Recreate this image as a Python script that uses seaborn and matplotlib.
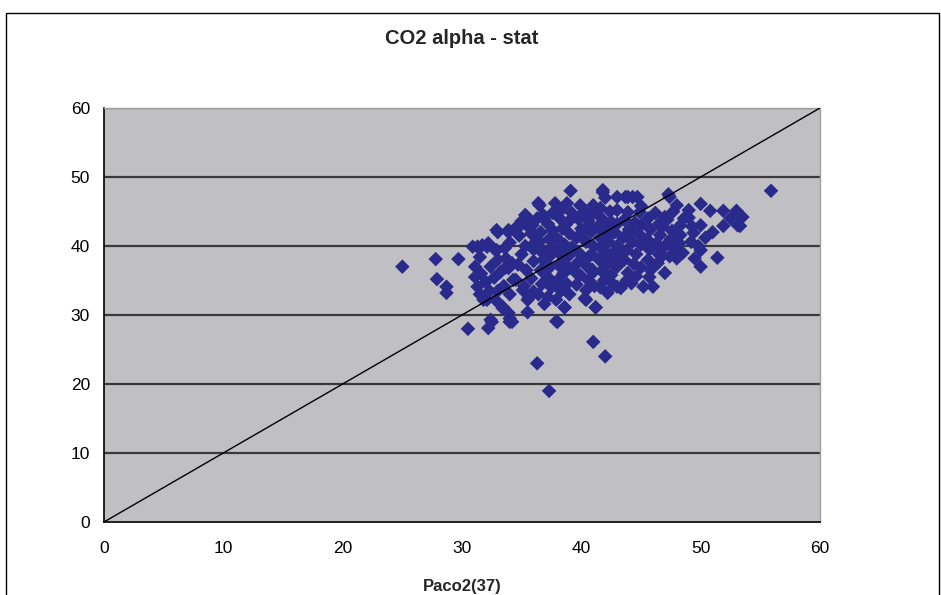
import seaborn as sns
import pandas as pd
import matplotlib.pyplot as plt
from matplotlib.patches import Rectangle

# points, grouped roughly by Paco2 column
paco2 = [
    25.0, 27.8, 29.7, 27.9, 28.7, 28.7, 30.5, 32.2, 32.4, 32.5,
    36.3, 37.3, 41.0, 42.0, 55.9,
    31.8, 32.1, 32.8, 33.4, 33.9, 34.2, 34.0,
    33.4, 34.0, 35.5, 35.5, 35.1, 34.5, 33.6,
    37.9, 38.0, 38.6, 40.3, 41.2, 40.4,
    31.3, 31.5, 31.1, 31.1, 31.3, 30.9, 31.7, 32.2, 32.1, 32.4, 31.6, 32.0, 32.3, 31.5,
    32.9, 33.0, 33.9, 33.9, 32.8, 33.6, 32.9, 33.2, 33.9, 34.3, 33.0, 33.7, 32.7, 33.5, 34.0, 33.0, 34.0, 34.2,
    34.6, 34.9, 35.5, 35.3, 34.8, 35.3, 35.0, 34.7, 35.4, 35.8, 35.2, 36.0, 35.8, 35.9, 36.0, 36.0, 35.6,
    36.4, 36.5, 36.8, 36.3, 37.2, 36.6, 37.3, 36.5, 37.0, 36.8, 37.4, 36.6, 37.2, 36.7, 37.5, 36.4, 37.2, 37.6, 37.5, 36.9,
    37.8, 38.8, 38.3, 39.1, 38.2, 38.9, 38.4, 39.0, 38.0, 38.6, 38.1, 38.9, 38.3, 39.0, 38.5, 38.0, 38.8, 38.3, 39.0, 38.6, 37.9, 39.2, 39.2,
    39.9, 41.0, 40.3, 39.7, 40.6, 40.0, 40.8, 39.6, 40.4, 41.0, 39.8, 40.6, 39.7, 40.5, 41.0, 39.9, 40.6, 39.6, 40.4, 41.1, 40.3, 41.2, 41.0, 40.9,
    41.8, 41.8, 42.0, 43.0, 41.6, 42.4, 43.0, 41.7, 42.5, 41.9, 42.8, 41.6, 42.3, 43.0, 41.8, 42.6, 41.5, 42.2, 43.0, 41.7, 42.5, 41.9, 42.7, 43.0, 41.6, 42.2, 43.0, 42.9,
    43.7, 44.3, 43.9, 44.7, 43.9, 44.9, 43.6, 44.5, 44.0, 44.8, 43.5, 44.3, 45.0, 43.8, 44.6, 43.6, 44.4, 45.0, 43.9, 44.6, 43.3, 43.8, 45.2, 44.2, 45.0, 45.0,
    46.2, 45.6, 46.5, 45.8, 46.6, 45.5, 46.3, 47.0, 45.7, 46.5, 45.6, 46.4, 47.0, 45.8, 46.0, 45.7, 46.8, 47.0, 46.8,
    47.4, 47.3, 47.2, 48.0, 47.6, 48.3, 47.5, 48.2, 47.8, 48.5, 47.4, 48.0, 48.3, 47.7, 48.6,
    49.0, 49.0, 50.0, 49.4, 50.0, 49.2, 49.8, 50.0, 49.5, 50.0, 50.4, 49.3,
    50.8, 51.9, 53.0, 53.5, 53.3, 51.9, 51.0, 53.1, 51.4, 52.5,
    # extra points in the dense core
    35.0, 35.6, 36.2, 36.9, 37.6, 38.2, 38.7, 39.4, 40.1, 40.7, 41.4, 42.1,
    36.0, 36.7, 37.4, 38.1, 38.8, 39.5, 40.2, 40.9, 41.6, 42.3, 43.1, 43.8,
]
co2_alpha_stat = [
    37.0, 38.1, 38.1, 35.2, 34.1, 33.2, 28.0, 28.1, 29.3, 29.0,
    23.0, 19.0, 26.1, 24.0, 48.0,
    32.2, 32.2, 32.2, 31.2, 30.3, 29.0, 29.5,
    31.0, 29.0, 30.4, 32.2, 33.6, 35.1, 36.8,
    29.1, 29.0, 31.1, 32.4, 31.1, 32.2,
    39.9, 38.4, 37.0, 35.5, 34.1, 39.9, 40.1, 40.4, 39.9, 37.0, 36.0, 34.8, 33.5, 33.0,
    42.3, 42.0, 42.3, 42.0, 39.4, 39.7, 39.4, 36.2, 36.8, 35.1, 38.0, 38.2, 35.4, 34.2, 33.0, 33.5, 40.5, 37.5,
    42.8, 43.0, 44.1, 44.5, 41.5, 40.0, 38.8, 37.3, 36.5, 35.3, 34.2, 33.4, 41.8, 43.0, 39.5, 37.8, 32.5,
    46.2, 45.9, 44.5, 44.0, 43.2, 42.0, 41.0, 40.6, 39.2, 38.0, 37.0, 36.5, 35.5, 34.5, 34.0, 33.0, 32.6, 44.8, 39.8, 31.6,
    46.2, 46.2, 45.2, 48.0, 44.0, 43.5, 42.5, 41.8, 41.0, 40.2, 39.0, 38.5, 37.5, 36.8, 36.0, 35.0, 34.5, 33.5, 33.0, 31.1, 32.2, 44.8, 39.8,
    45.9, 45.9, 45.0, 44.0, 43.6, 42.5, 42.0, 41.2, 40.6, 40.0, 39.0, 38.4, 37.6, 37.0, 36.2, 35.8, 35.0, 34.4, 33.6, 34.2, 32.4, 31.1, 44.8, 38.8,
    47.8, 48.1, 47.0, 47.1, 45.5, 45.0, 45.2, 44.0, 43.5, 42.6, 42.0, 41.2, 40.6, 40.0, 39.5, 38.9, 38.0, 37.4, 37.0, 36.4, 35.8, 35.0, 34.4, 34.1, 34.0, 33.2, 43.2, 38.2,
    47.1, 47.1, 47.1, 47.1, 44.9, 44.9, 43.8, 43.4, 42.4, 41.8, 41.2, 40.6, 40.2, 39.4, 38.8, 38.0, 37.4, 36.9, 36.1, 35.6, 33.9, 35.0, 34.1, 34.6, 43.0, 45.8,
    44.8, 44.0, 43.2, 42.4, 41.6, 41.0, 40.4, 40.0, 39.5, 38.8, 38.0, 37.5, 36.1, 36.5, 34.1, 35.5, 42.8, 44.2, 38.6,
    47.1, 47.5, 43.8, 45.9, 42.2, 41.6, 41.0, 40.4, 39.6, 39.0, 38.5, 38.2, 43.0, 45.0, 44.0,
    45.2, 44.1, 46.1, 41.9, 43.0, 40.6, 40.0, 39.4, 38.2, 37.0, 41.2, 42.8,
    45.1, 45.1, 45.1, 44.2, 42.9, 42.9, 42.0, 43.0, 38.3, 44.0,
    43.6, 42.7, 41.5, 43.9, 42.3, 40.7, 43.1, 44.3, 41.9, 43.0, 42.8, 39.0,
    40.3, 39.1, 38.6, 37.2, 39.4, 36.2, 37.9, 36.6, 39.8, 41.4, 39.1, 41.5,
]
df = pd.DataFrame({"Paco2(37)": paco2, "CO2 alpha-stat": co2_alpha_stat})

y_ticks = [0, 10, 20, 30, 40, 50, 60]
x_ticks = [0, 10, 20, 30, 40, 50, 60]

sns.set_style("white")
plt.rcParams["font.family"] = ["Liberation Sans", "DejaVu Sans"]

fig = plt.figure(figsize=(9.41, 5.95), dpi=100)
ax = fig.add_axes([0.1105, 0.1227, 0.7609, 0.6958])
ax.set_facecolor("#c0c0c4")

for t in y_ticks[1:]:
    ax.axhline(t, color="#3a3a3a", lw=1.6, zorder=1)

ax.plot([0, 60], [0, 60], color="black", lw=1, zorder=3)

sns.scatterplot(data=df, x="Paco2(37)", y="CO2 alpha-stat", marker="D", s=55,
                color="#2a2a8c", edgecolor="none", ax=ax, zorder=2)

ax.set_xlim(0, 60)
ax.set_ylim(0, 60)
ax.set_xticks(x_ticks)
ax.set_yticks(y_ticks)
ax.set_xlabel("")
ax.set_ylabel("")
ax.tick_params(axis="both", direction="out", length=4, width=1, colors="black",
               labelsize=12.5, pad=6)
ax.tick_params(axis="x", pad=10)
for side in ["top", "right"]:
    ax.spines[side].set_color("#a0a0a0")
    ax.spines[side].set_linewidth(1)
for side in ["left", "bottom"]:
    ax.spines[side].set_color("black")
    ax.spines[side].set_linewidth(1.2)

fig.text(0.491, 0.936, "CO2 alpha - stat", ha="center", va="center",
         fontsize=14.5, fontweight="bold")
fig.text(0.491, 0.015, "Paco2(37)", ha="center", va="center",
         fontsize=12, fontweight="bold")

fig.patches.append(Rectangle((0.006, -0.05), 0.992, 1.028, transform=fig.transFigure,
                             fill=False, edgecolor="black", lw=1))

plt.savefig("out.png", dpi=100)
